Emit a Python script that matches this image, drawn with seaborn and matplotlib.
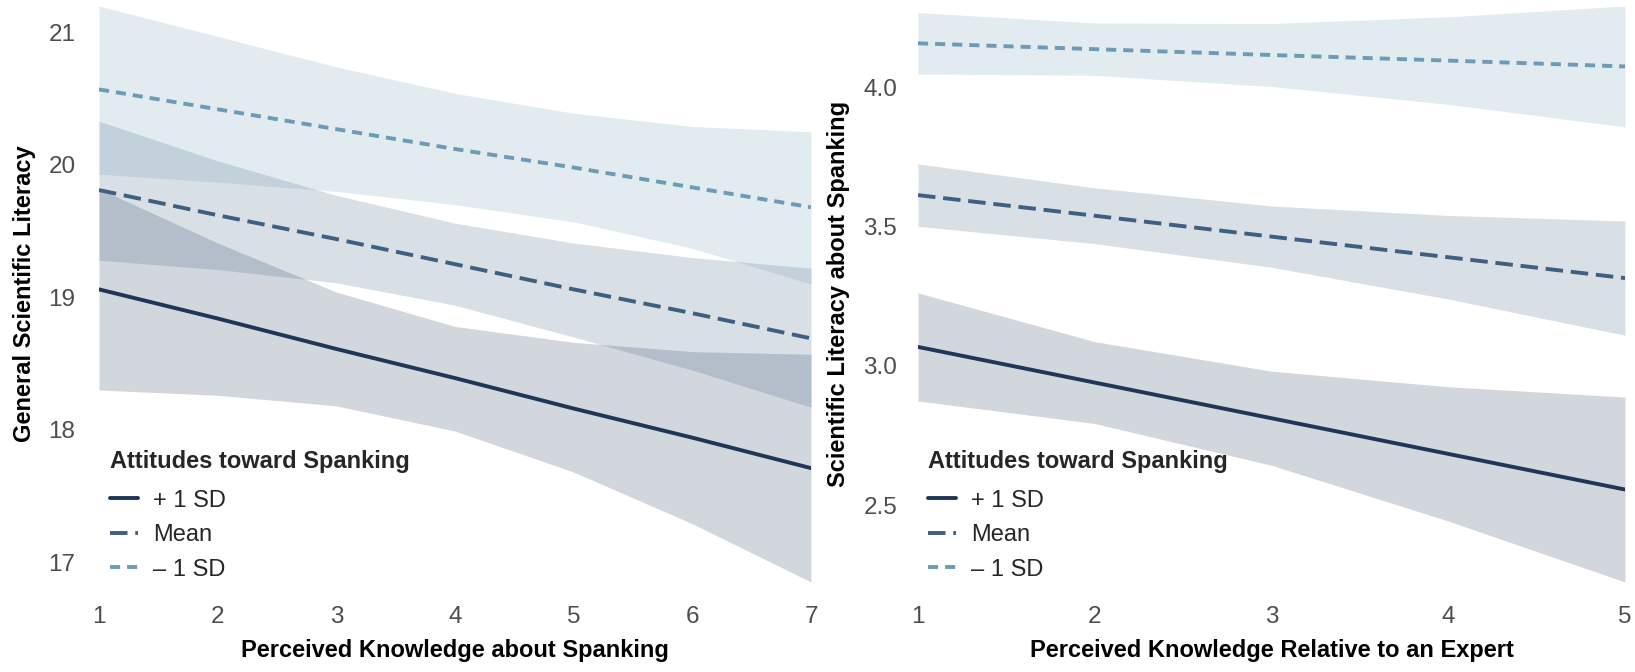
"""Simple slopes of scientific literacy by perceived knowledge, moderated by attitudes toward spanking."""
import matplotlib.pyplot as plt
import pandas as pd
import seaborn as sns

GROUPS = ["+ 1 SD", "Mean", "\u2013 1 SD"]
LEGEND_TITLE = "Attitudes toward Spanking"

# left panel: general scientific literacy (x = 1..7)
GEN_X = [1, 2, 3, 4, 5, 6, 7]
GEN_PLUS_FIT = [19.06, 18.84, 18.61, 18.39, 18.16, 17.94, 17.71]
GEN_PLUS_LO = [18.30, 18.26, 18.18, 17.99, 17.68, 17.29, 16.85]
GEN_PLUS_HI = [19.82, 19.41, 19.04, 18.78, 18.66, 18.59, 18.57]
GEN_MEAN_FIT = [19.81, 19.62, 19.44, 19.25, 19.06, 18.88, 18.69]
GEN_MEAN_LO = [19.28, 19.21, 19.11, 18.94, 18.70, 18.45, 18.17]
GEN_MEAN_HI = [20.33, 20.03, 19.77, 19.56, 19.41, 19.30, 19.22]
GEN_MINUS_FIT = [20.57, 20.42, 20.27, 20.12, 19.98, 19.83, 19.68]
GEN_MINUS_LO = [19.93, 19.87, 19.80, 19.70, 19.57, 19.37, 19.10]
GEN_MINUS_HI = [21.20, 20.97, 20.74, 20.54, 20.39, 20.29, 20.25]
GEN_YTICKS = [17, 18, 19, 20, 21]

# right panel: scientific literacy about spanking (x = 1..5)
SPK_X = [1, 2, 3, 4, 5]
SPK_PLUS_FIT = [3.068, 2.940, 2.812, 2.684, 2.556]
SPK_PLUS_LO = [2.874, 2.793, 2.643, 2.443, 2.224]
SPK_PLUS_HI = [3.262, 3.087, 2.981, 2.925, 2.888]
SPK_MEAN_FIT = [3.613, 3.539, 3.464, 3.390, 3.315]
SPK_MEAN_LO = [3.501, 3.439, 3.354, 3.240, 3.110]
SPK_MEAN_HI = [3.725, 3.639, 3.574, 3.540, 3.520]
SPK_MINUS_FIT = [4.158, 4.137, 4.116, 4.096, 4.075]
SPK_MINUS_LO = [4.048, 4.043, 4.003, 3.939, 3.858]
SPK_MINUS_HI = [4.268, 4.231, 4.229, 4.253, 4.292]
SPK_YTICKS = [2.5, 3.0, 3.5, 4.0]

COLORS = dict(zip(GROUPS, ["#1f3656", "#3e5f80", "#6c9cb5"]))
DASHES = dict(zip(GROUPS, ["", (4.5, 2.0), (2.6, 1.8)]))

W, H = 1635, 672


def draw_panel(fig, rect, x, fits, lows, highs, xlabel, ylabel, yticks, yfmt,
               ylab_x, ypad, legend_x):
    ax = fig.add_axes([rect[0] / W, 1 - rect[3] / H, (rect[2] - rect[0]) / W,
                       (rect[3] - rect[1]) / H])

    rows = []
    for g, fit in zip(GROUPS, fits):
        for xi, yi in zip(x, fit):
            rows.append({"x": xi, "y": yi, "group": g})
    df = pd.DataFrame(rows)

    for g, lo, hi in zip(GROUPS, lows, highs):
        ax.fill_between(x, lo, hi, color=COLORS[g], alpha=0.2, linewidth=0)

    sns.lineplot(data=df, x="x", y="y", hue="group", style="group",
                 hue_order=GROUPS, style_order=GROUPS, palette=COLORS,
                 dashes=DASHES, linewidth=2.8, errorbar=None, ax=ax)

    ax.set_xlim(min(x), max(x))
    ax.set_ylim(min(min(l) for l in lows), max(max(h) for h in highs))
    ax.set_xticks(x)
    ax.set_yticks(yticks)
    ax.set_yticklabels([yfmt.format(v) for v in yticks])
    ax.tick_params(axis="both", length=0, labelsize=17.5, labelcolor="#4d4d4d")
    ax.tick_params(axis="x", pad=17)
    ax.tick_params(axis="y", pad=ypad)
    for s in ax.spines.values():
        s.set_visible(False)
    ax.grid(False)

    ax.set_xlabel(xlabel, fontsize=17, fontweight="bold", color="black")
    ax.set_ylabel(ylabel, fontsize=17, fontweight="bold", color="black")
    width = rect[2] - rect[0]
    height = rect[3] - rect[1]
    ax.xaxis.set_label_coords(0.5, (rect[3] - 639) / height)
    ax.yaxis.set_label_coords((ylab_x - rect[0]) / width, 0.5)

    handles, labels = ax.get_legend_handles_labels()
    leg = ax.legend(handles, labels, title=LEGEND_TITLE, loc="upper left",
                    bbox_to_anchor=(legend_x / W, 1 - 450 / H),
                    bbox_transform=fig.transFigure, frameon=False, fontsize=17,
                    title_fontproperties={"weight": "bold", "size": 17},
                    alignment="left", handlelength=1.19, handletextpad=0.64,
                    labelspacing=0.53, borderpad=0, borderaxespad=0)
    # extra room between the legend title and the first entry
    leg._legend_box.sep = 12
    return ax


def main():
    sns.set_theme(style="white")
    plt.rcParams["font.family"] = ["Liberation Sans", "DejaVu Sans"]

    fig = plt.figure(figsize=(W / 100, H / 100), dpi=100)
    fig.patch.set_facecolor("white")

    draw_panel(fig, (99, 6, 811, 582), GEN_X,
               [GEN_PLUS_FIT, GEN_MEAN_FIT, GEN_MINUS_FIT],
               [GEN_PLUS_LO, GEN_MEAN_LO, GEN_MINUS_LO],
               [GEN_PLUS_HI, GEN_MEAN_HI, GEN_MINUS_HI],
               "Perceived Knowledge about Spanking",
               "General Scientific Literacy", GEN_YTICKS, "{:.0f}",
               ylab_x=36, ypad=17, legend_x=110)

    draw_panel(fig, (918, 6, 1625, 582), SPK_X,
               [SPK_PLUS_FIT, SPK_MEAN_FIT, SPK_MINUS_FIT],
               [SPK_PLUS_LO, SPK_MEAN_LO, SPK_MINUS_LO],
               [SPK_PLUS_HI, SPK_MEAN_HI, SPK_MINUS_HI],
               "Perceived Knowledge Relative to an Expert",
               "Scientific Literacy about Spanking", SPK_YTICKS, "{:.1f}",
               ylab_x=850, ypad=15, legend_x=928)

    fig.savefig("out.png", dpi=100, facecolor="white")
    plt.close(fig)


if __name__ == "__main__":
    main()
